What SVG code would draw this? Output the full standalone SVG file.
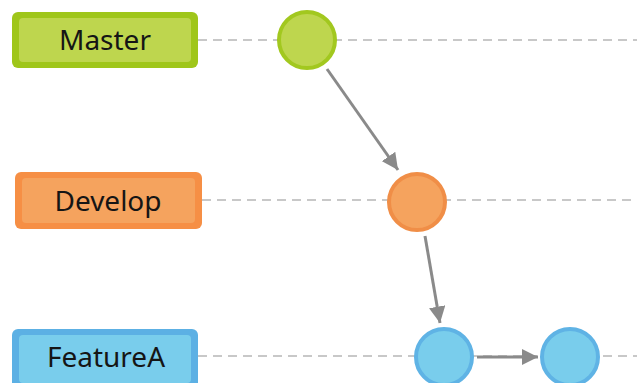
<svg xmlns="http://www.w3.org/2000/svg" width="637" height="383" viewBox="0 0 637 383">
  <defs>
    <marker id="arrow" viewBox="0 0 10 10" refX="10" refY="5" markerWidth="5.5" markerHeight="5.5" markerUnits="strokeWidth" orient="auto">
      <path d="M0,0 L10,5 L0,10 z" fill="#8a8a8a"/>
    </marker>
  </defs>
  <style>
    .lane { stroke: #c8c8c8; stroke-width: 2; stroke-dasharray: 9 6; fill: none; }
    .edge { stroke: #8a8a8a; stroke-width: 3; fill: none; marker-end: url(#arrow); }
    .label { font-family: "Noto Sans", "Open Sans", sans-serif; font-size: 28px; fill: #151515; text-anchor: middle; }
    .master .outer { fill: #9fc61a; }
    .master .inner, .master circle { fill: #bed64e; }
    .master circle { stroke: #a2c81f; stroke-width: 4; }
    .develop .outer { fill: #f68f45; }
    .develop .inner, .develop circle { fill: #f5a35e; }
    .develop circle { stroke: #f08e47; stroke-width: 4; }
    .feature .outer { fill: #5cb0e4; }
    .feature .inner, .feature circle { fill: #79cdec; }
    .feature circle { stroke: #5fb3e5; stroke-width: 4; }
  </style>

  <!-- branch lanes -->
  <g id="lanes">
    <line class="lane" x1="198" y1="40" x2="637" y2="40"/>
    <line class="lane" x1="202" y1="200" x2="637" y2="200"/>
    <line class="lane" x1="198" y1="356" x2="637" y2="356"/>
  </g>

  <!-- branch labels -->
  <g id="label-master" class="master">
    <rect class="outer" x="12" y="12" width="186" height="56" rx="6"/>
    <rect class="inner" x="19" y="18" width="172" height="44" rx="4"/>
    <text class="label" x="105" y="50">Master</text>
  </g>
  <g id="label-develop" class="develop">
    <rect class="outer" x="15" y="172" width="187" height="57" rx="6"/>
    <rect class="inner" x="22" y="178" width="173" height="45" rx="4"/>
    <text class="label" x="108" y="211">Develop</text>
  </g>
  <g id="label-featurea" class="feature">
    <rect class="outer" x="12" y="329" width="186" height="60" rx="6"/>
    <rect class="inner" x="19" y="335" width="172" height="48" rx="4"/>
    <text class="label" x="106" y="367">FeatureA</text>
  </g>

  <!-- commits -->
  <g id="commit-master" class="master">
    <circle cx="307" cy="40" r="28"/>
  </g>
  <g id="commit-develop" class="develop">
    <circle cx="417" cy="202" r="28"/>
  </g>
  <g id="commit-feature-1" class="feature">
    <circle cx="444" cy="357" r="28"/>
  </g>
  <g id="commit-feature-2" class="feature">
    <circle cx="570" cy="357" r="28"/>
  </g>

  <!-- connectors -->
  <g id="connectors">
    <line class="edge" x1="327" y1="69" x2="398" y2="170"/>
    <line class="edge" x1="425" y1="236" x2="440" y2="323"/>
    <line class="edge" x1="477" y1="357" x2="538" y2="357"/>
  </g>
</svg>
